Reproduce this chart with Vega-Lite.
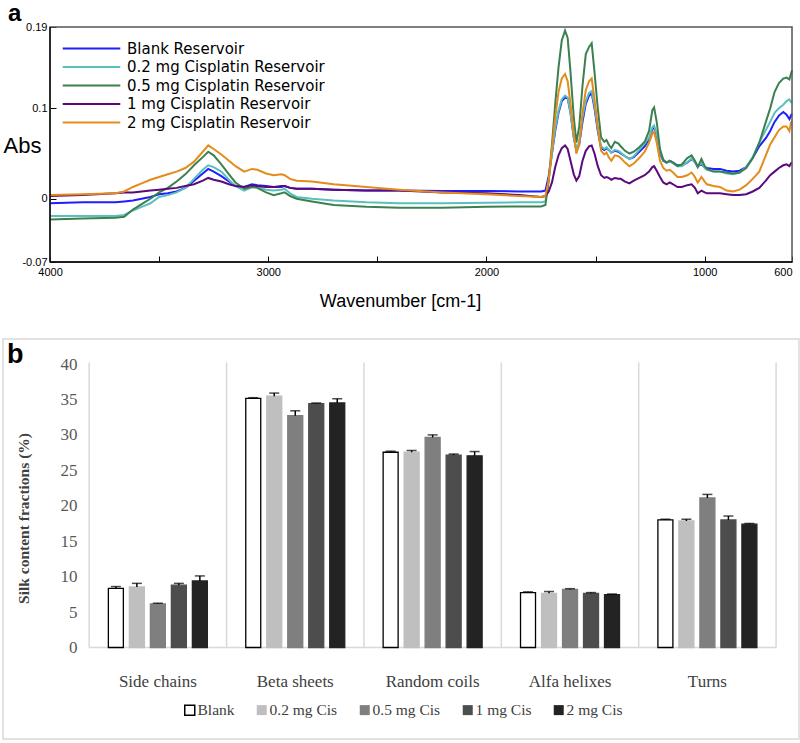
{
  "$schema": "https://vega.github.io/schema/vega-lite/v6.json",
  "padding": {"left": 2, "top": 2, "right": 0, "bottom": 0},
  "background": "white",
  "config": {"font": "Liberation Sans"},
  "datasets": {
    "spec": [
      {"w":4000,"b":-0.005,"c":-0.019,"g":-0.023,"p":0.003,"o":0.004},
      {"w":3850,"b":-0.004,"c":-0.019,"g":-0.022,"p":0.004,"o":0.005},
      {"w":3700,"b":-0.004,"c":-0.019,"g":-0.021,"p":0.006,"o":0.006},
      {"w":3660,"b":-0.003,"c":-0.018,"g":-0.020,"p":0.007,"o":0.008},
      {"w":3620,"b":-0.002,"c":-0.013,"g":-0.012,"p":0.007,"o":0.013},
      {"w":3580,"b":0.000,"c":-0.009,"g":-0.006,"p":0.008,"o":0.017},
      {"w":3540,"b":0.002,"c":-0.005,"g":0.000,"p":0.009,"o":0.021},
      {"w":3500,"b":0.005,"c":0.002,"g":0.007,"p":0.010,"o":0.024},
      {"w":3460,"b":0.006,"c":0.004,"g":0.012,"p":0.011,"o":0.027},
      {"w":3420,"b":0.008,"c":0.007,"g":0.019,"p":0.012,"o":0.030},
      {"w":3380,"b":0.012,"c":0.012,"g":0.027,"p":0.014,"o":0.034},
      {"w":3340,"b":0.020,"c":0.022,"g":0.037,"p":0.016,"o":0.041},
      {"w":3300,"b":0.028,"c":0.032,"g":0.046,"p":0.020,"o":0.052},
      {"w":3275,"b":0.033,"c":0.037,"g":0.052,"p":0.023,"o":0.059},
      {"w":3250,"b":0.030,"c":0.035,"g":0.048,"p":0.021,"o":0.055},
      {"w":3215,"b":0.025,"c":0.030,"g":0.038,"p":0.019,"o":0.049},
      {"w":3180,"b":0.019,"c":0.021,"g":0.027,"p":0.016,"o":0.042},
      {"w":3150,"b":0.014,"c":0.014,"g":0.018,"p":0.014,"o":0.036},
      {"w":3110,"b":0.013,"c":0.009,"g":0.011,"p":0.013,"o":0.030},
      {"w":3075,"b":0.016,"c":0.013,"g":0.013,"p":0.015,"o":0.033},
      {"w":3050,"b":0.015,"c":0.013,"g":0.012,"p":0.014,"o":0.032},
      {"w":3010,"b":0.014,"c":0.010,"g":0.007,"p":0.013,"o":0.028},
      {"w":2975,"b":0.013,"c":0.009,"g":0.004,"p":0.013,"o":0.026},
      {"w":2940,"b":0.013,"c":0.010,"g":0.006,"p":0.014,"o":0.027},
      {"w":2925,"b":0.014,"c":0.011,"g":0.007,"p":0.014,"o":0.026},
      {"w":2900,"b":0.012,"c":0.006,"g":0.003,"p":0.012,"o":0.022},
      {"w":2870,"b":0.011,"c":0.002,"g":0.000,"p":0.011,"o":0.020},
      {"w":2800,"b":0.011,"c":0.000,"g":-0.003,"p":0.011,"o":0.019},
      {"w":2700,"b":0.010,"c":-0.002,"g":-0.007,"p":0.010,"o":0.016},
      {"w":2550,"b":0.009,"c":-0.004,"g":-0.009,"p":0.009,"o":0.013},
      {"w":2400,"b":0.009,"c":-0.005,"g":-0.010,"p":0.009,"o":0.010},
      {"w":2200,"b":0.0085,"c":-0.005,"g":-0.010,"p":0.007,"o":0.007},
      {"w":2000,"b":0.0085,"c":-0.0045,"g":-0.009,"p":0.006,"o":0.005},
      {"w":1850,"b":0.008,"c":-0.004,"g":-0.0085,"p":0.004,"o":0.003},
      {"w":1750,"b":0.008,"c":-0.004,"g":-0.0085,"p":0.002,"o":0.002},
      {"w":1730,"b":0.009,"c":-0.003,"g":-0.007,"p":0.003,"o":0.003},
      {"w":1715,"b":0.025,"c":0.020,"g":0.020,"p":0.008,"o":0.020},
      {"w":1700,"b":0.050,"c":0.050,"g":0.060,"p":0.018,"o":0.055},
      {"w":1685,"b":0.075,"c":0.078,"g":0.105,"p":0.035,"o":0.090},
      {"w":1670,"b":0.095,"c":0.097,"g":0.145,"p":0.048,"o":0.118},
      {"w":1655,"b":0.108,"c":0.110,"g":0.175,"p":0.056,"o":0.133},
      {"w":1640,"b":0.112,"c":0.114,"g":0.186,"p":0.059,"o":0.138},
      {"w":1628,"b":0.111,"c":0.112,"g":0.178,"p":0.055,"o":0.130},
      {"w":1615,"b":0.095,"c":0.095,"g":0.140,"p":0.042,"o":0.105},
      {"w":1600,"b":0.068,"c":0.068,"g":0.090,"p":0.027,"o":0.072},
      {"w":1588,"b":0.053,"c":0.055,"g":0.062,"p":0.020,"o":0.050},
      {"w":1575,"b":0.060,"c":0.063,"g":0.080,"p":0.025,"o":0.060},
      {"w":1560,"b":0.085,"c":0.090,"g":0.125,"p":0.042,"o":0.095},
      {"w":1545,"b":0.105,"c":0.108,"g":0.160,"p":0.053,"o":0.120},
      {"w":1530,"b":0.114,"c":0.117,"g":0.168,"p":0.058,"o":0.130},
      {"w":1518,"b":0.117,"c":0.119,"g":0.172,"p":0.059,"o":0.133},
      {"w":1505,"b":0.100,"c":0.103,"g":0.140,"p":0.050,"o":0.110},
      {"w":1490,"b":0.075,"c":0.078,"g":0.100,"p":0.036,"o":0.080},
      {"w":1475,"b":0.056,"c":0.058,"g":0.068,"p":0.026,"o":0.053},
      {"w":1460,"b":0.054,"c":0.055,"g":0.063,"p":0.023,"o":0.049},
      {"w":1450,"b":0.056,"c":0.057,"g":0.065,"p":0.024,"o":0.051},
      {"w":1440,"b":0.054,"c":0.054,"g":0.060,"p":0.023,"o":0.046},
      {"w":1428,"b":0.051,"c":0.051,"g":0.056,"p":0.021,"o":0.042},
      {"w":1412,"b":0.053,"c":0.054,"g":0.063,"p":0.023,"o":0.048},
      {"w":1395,"b":0.052,"c":0.053,"g":0.061,"p":0.022,"o":0.047},
      {"w":1385,"b":0.050,"c":0.051,"g":0.058,"p":0.022,"o":0.045},
      {"w":1365,"b":0.047,"c":0.047,"g":0.053,"p":0.019,"o":0.040},
      {"w":1345,"b":0.044,"c":0.044,"g":0.050,"p":0.017,"o":0.036},
      {"w":1325,"b":0.046,"c":0.047,"g":0.052,"p":0.020,"o":0.039},
      {"w":1300,"b":0.052,"c":0.054,"g":0.057,"p":0.023,"o":0.045},
      {"w":1275,"b":0.058,"c":0.061,"g":0.063,"p":0.026,"o":0.052},
      {"w":1255,"b":0.066,"c":0.068,"g":0.075,"p":0.030,"o":0.062},
      {"w":1240,"b":0.077,"c":0.079,"g":0.098,"p":0.035,"o":0.072},
      {"w":1232,"b":0.079,"c":0.081,"g":0.101,"p":0.036,"o":0.074},
      {"w":1220,"b":0.070,"c":0.072,"g":0.085,"p":0.031,"o":0.062},
      {"w":1205,"b":0.050,"c":0.052,"g":0.055,"p":0.024,"o":0.042},
      {"w":1190,"b":0.042,"c":0.043,"g":0.043,"p":0.018,"o":0.034},
      {"w":1175,"b":0.040,"c":0.040,"g":0.040,"p":0.016,"o":0.031},
      {"w":1160,"b":0.042,"c":0.042,"g":0.042,"p":0.018,"o":0.032},
      {"w":1145,"b":0.040,"c":0.039,"g":0.040,"p":0.016,"o":0.029},
      {"w":1125,"b":0.037,"c":0.036,"g":0.036,"p":0.013,"o":0.024},
      {"w":1105,"b":0.037,"c":0.036,"g":0.038,"p":0.013,"o":0.024},
      {"w":1080,"b":0.040,"c":0.040,"g":0.045,"p":0.015,"o":0.026},
      {"w":1060,"b":0.044,"c":0.045,"g":0.048,"p":0.016,"o":0.029},
      {"w":1045,"b":0.041,"c":0.040,"g":0.042,"p":0.012,"o":0.024},
      {"w":1032,"b":0.036,"c":0.035,"g":0.035,"p":0.006,"o":0.018},
      {"w":1015,"b":0.038,"c":0.040,"g":0.044,"p":0.009,"o":0.024},
      {"w":1000,"b":0.035,"c":0.034,"g":0.036,"p":0.007,"o":0.019},
      {"w":990,"b":0.034,"c":0.032,"g":0.033,"p":0.006,"o":0.016},
      {"w":960,"b":0.033,"c":0.030,"g":0.030,"p":0.006,"o":0.014},
      {"w":930,"b":0.033,"c":0.030,"g":0.030,"p":0.006,"o":0.013},
      {"w":900,"b":0.031,"c":0.028,"g":0.029,"p":0.005,"o":0.009},
      {"w":870,"b":0.030,"c":0.027,"g":0.028,"p":0.004,"o":0.008},
      {"w":840,"b":0.031,"c":0.029,"g":0.029,"p":0.004,"o":0.010},
      {"w":810,"b":0.035,"c":0.035,"g":0.034,"p":0.005,"o":0.015},
      {"w":780,"b":0.045,"c":0.046,"g":0.045,"p":0.008,"o":0.022},
      {"w":750,"b":0.058,"c":0.062,"g":0.062,"p":0.012,"o":0.030},
      {"w":720,"b":0.067,"c":0.076,"g":0.085,"p":0.020,"o":0.048},
      {"w":700,"b":0.075,"c":0.085,"g":0.100,"p":0.026,"o":0.060},
      {"w":680,"b":0.085,"c":0.095,"g":0.118,"p":0.030,"o":0.068},
      {"w":660,"b":0.092,"c":0.100,"g":0.128,"p":0.034,"o":0.076},
      {"w":640,"b":0.096,"c":0.104,"g":0.133,"p":0.037,"o":0.080},
      {"w":625,"b":0.093,"c":0.108,"g":0.134,"p":0.038,"o":0.080},
      {"w":612,"b":0.088,"c":0.110,"g":0.132,"p":0.036,"o":0.075},
      {"w":605,"b":0.092,"c":0.107,"g":0.138,"p":0.039,"o":0.084},
      {"w":600,"b":0.094,"c":0.108,"g":0.142,"p":0.040,"o":0.086}
    ],
    "bars": [
      {"cat":"Side chains","grp":"Blank","v":8.35,"hi":8.6},
      {"cat":"Side chains","grp":"0.2 mg Cis","v":8.55,"hi":9.05},
      {"cat":"Side chains","grp":"0.5 mg Cis","v":6.15,"hi":6.25},
      {"cat":"Side chains","grp":"1 mg Cis","v":8.8,"hi":9.05},
      {"cat":"Side chains","grp":"2 mg Cis","v":9.4,"hi":10.1},
      {"cat":"Beta sheets","grp":"Blank","v":35.15,"hi":35.25},
      {"cat":"Beta sheets","grp":"0.2 mg Cis","v":35.45,"hi":35.9},
      {"cat":"Beta sheets","grp":"0.5 mg Cis","v":32.7,"hi":33.4},
      {"cat":"Beta sheets","grp":"1 mg Cis","v":34.4,"hi":34.5},
      {"cat":"Beta sheets","grp":"2 mg Cis","v":34.5,"hi":35.1},
      {"cat":"Random coils","grp":"Blank","v":27.55,"hi":27.7},
      {"cat":"Random coils","grp":"0.2 mg Cis","v":27.55,"hi":27.8},
      {"cat":"Random coils","grp":"0.5 mg Cis","v":29.65,"hi":30.0},
      {"cat":"Random coils","grp":"1 mg Cis","v":27.15,"hi":27.3},
      {"cat":"Random coils","grp":"2 mg Cis","v":27.05,"hi":27.65},
      {"cat":"Alfa helixes","grp":"Blank","v":7.75,"hi":7.85},
      {"cat":"Alfa helixes","grp":"0.2 mg Cis","v":7.65,"hi":7.9},
      {"cat":"Alfa helixes","grp":"0.5 mg Cis","v":8.2,"hi":8.3},
      {"cat":"Alfa helixes","grp":"1 mg Cis","v":7.65,"hi":7.75},
      {"cat":"Alfa helixes","grp":"2 mg Cis","v":7.45,"hi":7.55},
      {"cat":"Turns","grp":"Blank","v":18.0,"hi":18.1},
      {"cat":"Turns","grp":"0.2 mg Cis","v":17.85,"hi":18.1},
      {"cat":"Turns","grp":"0.5 mg Cis","v":21.1,"hi":21.6},
      {"cat":"Turns","grp":"1 mg Cis","v":18.0,"hi":18.55},
      {"cat":"Turns","grp":"2 mg Cis","v":17.4,"hi":17.5}
    ],
    "cats": [
      {"cat":"Side chains"},{"cat":"Beta sheets"},{"cat":"Random coils"},{"cat":"Alfa helixes"},{"cat":"Turns"}
    ]
  },
  "vconcat": [
    {
      "width": 796,
      "height": 235,
      "view": {"stroke": null},
      "title": {"text": "a", "anchor": "start", "frame": "group", "dx": 5, "fontSize": 24, "fontWeight": "bold", "font": "Liberation Sans", "color": "#000000", "offset": -5},
      "layer": [
        {
          "data": {"name": "spec"},
          "transform": [{"fold": ["b", "c", "g", "p", "o"], "as": ["k", "v"]}],
          "mark": {"type": "line", "strokeWidth": 2, "clip": true},
          "encoding": {
            "x": {
              "field": "w", "type": "quantitative",
              "scale": {"domain": [568, 4215.4], "reverse": true, "nice": false, "zero": false},
              "axis": {
                "values": [4000, 3500, 3000, 2500, 2000, 1500, 1000, 600],
                "labelExpr": "indexof([4000, 3000, 2000, 1000, 600], datum.value) >= 0 ? datum.value + '' : ''",
                "labelAlign": {"condition": {"test": "datum.value == 600", "value": "right"}, "value": "center"},
                "grid": false, "domain": false, "tickSize": -6, "tickColor": "#000000", "labelFlush": false,
                "labelFontSize": 11, "labelColor": "#000000", "labelPadding": 10, "labelFont": "Liberation Sans",
                "title": "Wavenumber [cm-1]", "titleFont": "Liberation Sans", "titleFontSize": 18, "titleFontWeight": "normal",
                "titleColor": "#000000", "titleX": 397, "titleY": 44, "titleBaseline": "alphabetic", "titleAlign": "center"
              }
            },
            "y": {
              "field": "v", "type": "quantitative",
              "scale": {"domain": [-0.07, 0.19], "nice": false, "zero": false},
              "axis": {
                "values": [-0.07, -0.05, 0, 0.05, 0.1, 0.15, 0.19],
                "labelExpr": "datum.value == 0.19 ? '0.19' : datum.value == 0.1 ? '0.1' : datum.value == 0 ? '0' : datum.value == -0.07 ? '-0.07' : ''",
                "offset": -47, "grid": false, "domain": false, "tickSize": -6, "tickColor": "#000000", "labelFlush": false,
                "labelFontSize": 11, "labelColor": "#000000", "labelPadding": 9, "labelFont": "Liberation Sans",
                "title": "Abs", "titleAngle": 0, "titleX": -47, "titleY": 125, "titleAlign": "left", "titleBaseline": "alphabetic",
                "titleFont": "Liberation Sans", "titleFontSize": 22, "titleFontWeight": "normal", "titleColor": "#000000"
              }
            },
            "color": {
              "field": "k", "type": "nominal",
              "scale": {"domain": ["b", "c", "g", "p", "o"], "range": ["#1e1eff", "#5cbfbf", "#3c8050", "#5a0a7a", "#e38c1c"]},
              "legend": {
                "orient": "none", "legendX": 81, "legendY": 14, "title": null, "padding": 0,
                "symbolType": "M-4.8,0H4.8", "symbolSize": 144, "symbolStrokeWidth": 2,
                "labelOffset": 28, "labelFontSize": 15, "labelFont": "DejaVu Sans", "labelColor": "#000000", "rowPadding": 2.5, "labelLimit": 400,
                "labelExpr": "datum.label == 'b' ? 'Blank Reservoir' : datum.label == 'c' ? '0.2 mg Cisplatin Reservoir' : datum.label == 'g' ? '0.5 mg Cisplatin Reservoir' : datum.label == 'p' ? '1 mg Cisplatin Reservoir' : '2 mg Cisplatin Reservoir'"
              }
            }
          }
        },
        {
          "data": {"values": [{}]},
          "mark": {"type": "rect", "fill": null, "stroke": "#555555", "strokeWidth": 1.5},
          "encoding": {
            "x": {"datum": 4000, "type": "quantitative"},
            "x2": {"datum": 600},
            "y": {"datum": -0.07, "type": "quantitative"},
            "y2": {"datum": 0.19}
          }
        },
        {
          "data": {"values": [{}]},
          "mark": {"type": "rule", "color": "#000000", "strokeWidth": 1.3},
          "encoding": {
            "x": {"datum": 4000, "type": "quantitative"},
            "y": {"datum": -0.07, "type": "quantitative"},
            "y2": {"datum": 0.19}
          }
        },
        {
          "data": {"values": [{}]},
          "mark": {"type": "rule", "color": "#000000", "strokeWidth": 1.3},
          "encoding": {
            "x": {"datum": 4000, "type": "quantitative"},
            "x2": {"datum": 600},
            "y": {"datum": -0.07, "type": "quantitative"}
          }
        }
      ]
    },
    {
      "width": 796,
      "height": 400,
      "view": {"stroke": "#d9d9d9", "strokeWidth": 1.5},
      "title": {"text": "b", "anchor": "start", "frame": "group", "dx": 4, "offset": -30, "fontSize": 27, "fontWeight": "bold", "font": "Liberation Sans", "color": "#000000"},
      "encoding": {
        "x": {
          "field": "cat", "type": "nominal",
          "sort": ["Side chains", "Beta sheets", "Random coils", "Alfa helixes", "Turns"],
          "scale": {"paddingInner": 0, "paddingOuter": 0.397, "align": 0.79},
          "axis": {
            "offset": -92, "domain": false, "ticks": false, "labelPadding": 26, "labelAngle": 0,
            "labelFont": "Liberation Serif", "labelFontSize": 17, "labelColor": "#404040", "title": null, "grid": false
          }
        }
      },
      "layer": [
        {
          "data": {"name": "cats"},
          "mark": {"type": "rule", "color": "#d9d9d9", "strokeWidth": 1.5},
          "encoding": {
            "x": {"field": "cat", "type": "nominal", "sort": ["Side chains", "Beta sheets", "Random coils", "Alfa helixes", "Turns"], "bandPosition": 0},
            "y": {"datum": 0, "type": "quantitative"},
            "y2": {"datum": 40.2}
          }
        },
        {
          "data": {"values": [{"cat": "Turns"}]},
          "mark": {"type": "rule", "color": "#d9d9d9", "strokeWidth": 1.5},
          "encoding": {
            "x": {"field": "cat", "type": "nominal", "sort": ["Side chains", "Beta sheets", "Random coils", "Alfa helixes", "Turns"], "bandPosition": 1},
            "y": {"datum": 0, "type": "quantitative"},
            "y2": {"datum": 40.2}
          }
        },
        {
          "data": {"name": "cats"},
          "mark": {"type": "rect", "fill": null, "stroke": "#d9d9d9", "strokeWidth": 1.5},
          "encoding": {
            "y": {"datum": 0, "type": "quantitative"},
            "y2": {"datum": 0}
          }
        },
        {
          "data": {"name": "bars"},
          "mark": {"type": "bar", "strokeWidth": 1.3},
          "encoding": {
            "xOffset": {"field": "grp", "type": "nominal", "sort": ["Blank", "0.2 mg Cis", "0.5 mg Cis", "1 mg Cis", "2 mg Cis"], "scale": {"paddingInner": 0.286, "paddingOuter": 0.914}},
            "y": {
              "field": "v", "type": "quantitative",
              "scale": {"domain": [-12.91, 43.53], "nice": false, "zero": false},
              "axis": {
                "values": [0, 5, 10, 15, 20, 25, 30, 35, 40], "offset": -82, "domain": false, "ticks": false, "labelPadding": 8, "grid": false,
                "labelFont": "Liberation Serif", "labelFontSize": 17, "labelColor": "#595959",
                "title": "Silk content fractions (%)", "titleFont": "Liberation Serif", "titleFontSize": 15.5, "titleFontWeight": "bold",
                "titleColor": "#404040", "titleX": -62, "titleY": 179, "titleAngle": -90, "titleBaseline": "middle", "titleAlign": "center"
              }
            },
            "fill": {
              "field": "grp", "type": "nominal",
              "scale": {"domain": ["Blank", "0.2 mg Cis", "0.5 mg Cis", "1 mg Cis", "2 mg Cis"], "range": ["#ffffff", "#bfbfbf", "#7f7f7f", "#4d4d4d", "#232323"]},
              "legend": {"orient": "none", "direction": "horizontal", "legendX": 179, "legendY": 675, "title": null, "padding": 0,
                "symbolType": "square", "symbolSize": 100, "labelOffset": 0, "columnPadding": 19,
                "labelFont": "Liberation Serif", "labelFontSize": 15.5, "labelColor": "#404040",
                "encode": {"symbols": {"update": {"stroke": {"value": "#000000"}, "strokeWidth": {"signal": "datum.value == 'Blank' ? 1.5 : 0"}}}}}
            },
            "stroke": {
              "field": "grp", "type": "nominal",
              "scale": {"domain": ["Blank", "0.2 mg Cis", "0.5 mg Cis", "1 mg Cis", "2 mg Cis"], "range": ["#000000", "#bfbfbf", "#7f7f7f", "#4d4d4d", "#232323"]},
              "legend": null
            }
          }
        },
        {
          "data": {"name": "bars"},
          "mark": {"type": "rule", "color": "#000000", "strokeWidth": 1.5},
          "encoding": {
            "xOffset": {"field": "grp", "type": "nominal", "sort": ["Blank", "0.2 mg Cis", "0.5 mg Cis", "1 mg Cis", "2 mg Cis"]},
            "y": {"field": "v", "type": "quantitative"},
            "y2": {"field": "hi"}
          }
        },
        {
          "data": {"name": "bars"},
          "mark": {"type": "tick", "color": "#000000", "thickness": 1.5, "size": 10, "orient": "horizontal"},
          "encoding": {
            "xOffset": {"field": "grp", "type": "nominal", "sort": ["Blank", "0.2 mg Cis", "0.5 mg Cis", "1 mg Cis", "2 mg Cis"]},
            "y": {"field": "hi", "type": "quantitative"}
          }
        }
      ]
    }
  ],
  "spacing": 28
}
